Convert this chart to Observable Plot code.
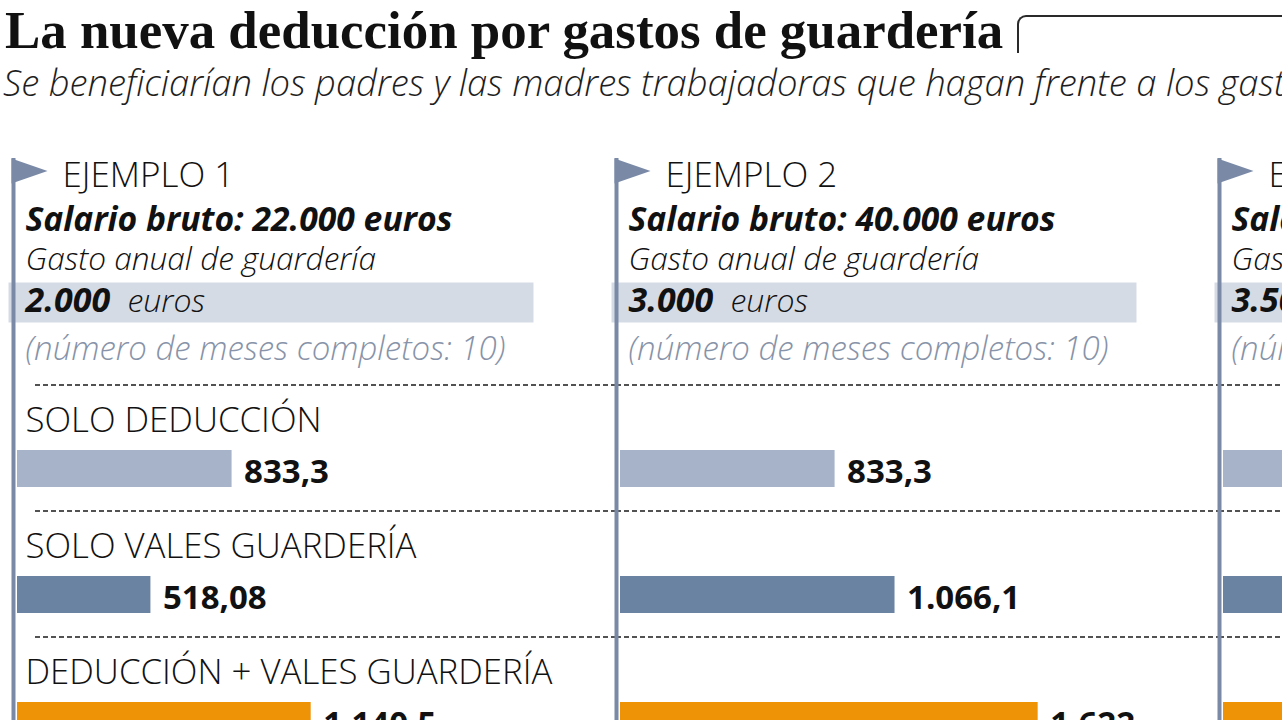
<!DOCTYPE html>
<html lang="es">
<head>
<meta charset="utf-8">
<script src="https://cdn.jsdelivr.net/npm/d3@7"></script>
<script src="https://cdn.jsdelivr.net/npm/@observablehq/plot@0.6"></script>
<style>
  html, body { margin: 0; padding: 0; width: 1282px; height: 720px; overflow: hidden; background: #fff; }
  #page { position: relative; width: 1282px; height: 720px; overflow: hidden; }
  #titulo { position: absolute; left: 5px; top: 4px; margin: 0; font-family: "Liberation Serif", serif; font-weight: 700; font-size: 52.9px; line-height: 53px; color: #111; white-space: nowrap; }
  #caja { position: absolute; left: 1017px; top: 15px; width: 400px; height: 36px; border-top: 2px solid #2a2a2a; border-left: 2px solid #2a2a2a; border-top-left-radius: 9px; }
  #subtitulo { position: absolute; left: 3px; top: 63.5px; margin: 0; font-family: "Open Sans", sans-serif; font-style: italic; font-weight: 300; font-size: 36.4px; line-height: 36.4px; color: #1e1e1e; white-space: nowrap; }
  #grafico { position: absolute; left: 0; top: 120px; }
  #grafico svg { max-width: none !important; overflow: hidden; }
</style>
</head>
<body>
<div id="page">
  <h1 id="titulo">La nueva deducción por gastos de guardería</h1>
  <div id="caja"></div>
  <p id="subtitulo">Se beneficiarían los padres y las madres trabajadoras que hagan frente a los gastos de guardería de sus hijos</p>
  <div id="grafico"></div>
</div>
<script>
// ---- Datos ----
const ejemplos = ["EJEMPLO 1", "EJEMPLO 2", "EJEMPLO 3"];
const salarios = [22000, 40000, 60000];
const gastos = [2000, 3000, 3500];
const meses = [10, 10, 10];
const medidas = ["SOLO DEDUCCIÓN", "SOLO VALES GUARDERÍA", "DEDUCCIÓN + VALES GUARDERÍA"];
const soloDeduccion = [833.3, 833.3, 833.3];
const soloVales = [518.08, 1066.1, 1575];
const deduccionVales = [1140.5, 1622, 2150];

// ---- Estilo ----
const colores = ["#a7b3c9", "#6a83a3", "#ee9206"];
const azulMastil = "#7a8aa6";
const F = "'Open Sans', sans-serif";

const es = d3.formatLocale({decimal: ",", thousands: ".", grouping: [3], currency: ["", " €"]});
const fmtVal = es.format(",.2~f");
const fmtInt = es.format(",d");

const info = ejemplos.map((e, i) => ({ejemplo: e, salario: salarios[i], gasto: gastos[i], meses: meses[i]}));
const valores = [soloDeduccion, soloVales, deduccionVales];
const rows = ejemplos.flatMap((e, i) => medidas.map((m, j) => ({ejemplo: e, medida: m, valor: valores[j][i]})));
const primero = rows.filter(d => d.ejemplo === ejemplos[0]);
const resto = rows.filter(d => d.ejemplo !== ejemplos[0]);

const banderin = {draw(ctx) { ctx.moveTo(0, 0); ctx.lineTo(36, 12.5); ctx.lineTo(0, 25); ctx.closePath(); }};

const head = {fx: "ejemplo", frameAnchor: "top-left", textAnchor: "start", lineAnchor: "bottom", fontFamily: F, fontSize: 32, dx: 12};

const chart = Plot.plot({
  width: 1840,
  height: 600,
  marginTop: 0, marginRight: 0, marginBottom: 0, marginLeft: 0,
  style: {fontFamily: F, background: "transparent"},
  fx: {domain: ejemplos, range: [13, 13 + 3 * 603], padding: 0, axis: null},
  x: {domain: [0, 2000], range: [4, 519], axis: null},
  y: {domain: medidas, range: [284, 664], paddingInner: 0.708, paddingOuter: 0.354, axis: null},
  color: {domain: medidas, range: colores},
  marks: [
    Plot.frame({fill: "#d5dbe5", stroke: "none", insetLeft: -5, insetRight: 83, insetTop: 162, insetBottom: 398}),
    Plot.ruleY(primero, {fx: "ejemplo", y: "medida", dy: -84, insetLeft: 22, stroke: "#1a1a1a", strokeWidth: 1.5, strokeDasharray: "5,3"}),
    Plot.ruleY(resto, {fx: "ejemplo", y: "medida", dy: -84, stroke: "#1a1a1a", strokeWidth: 1.5, strokeDasharray: "5,3"}),
    Plot.ruleX(info, {fx: "ejemplo", x: () => 0, dx: -4, insetTop: 38, stroke: azulMastil, strokeWidth: 4}),
    Plot.dot(info, {fx: "ejemplo", frameAnchor: "top-left", dx: -2, dy: 38, symbol: banderin, fill: azulMastil, stroke: "none"}),
    Plot.text(info, {...head, text: "ejemplo", dx: 49, dy: 66, fontSize: 35, fontWeight: 300, fill: "#111"}),
    Plot.text(info, {...head, text: d => `Salario bruto: ${fmtInt(d.salario)} euros`, dy: 110, fontSize: 33.7, fontStyle: "italic", fontWeight: 700, fill: "#111"}),
    Plot.text(info, {...head, text: () => "Gasto anual de guardería", dy: 149, fontSize: 31.6, fontStyle: "italic", fontWeight: 300, fill: "#111"}),
    Plot.text(info, {...head, text: d => fmtInt(d.gasto), dy: 191, fontSize: 34, fontStyle: "italic", fontWeight: 700, fill: "#111"}),
    Plot.text(info, {...head, text: () => "euros", dx: 114, dy: 191, fontStyle: "italic", fontWeight: 300, fill: "#111"}),
    Plot.text(info, {...head, text: d => `(número de meses completos: ${d.meses})`, dy: 239, fontSize: 33, fontStyle: "italic", fontWeight: 300, fill: "#8793a8"}),
    Plot.text(primero, {fx: "ejemplo", y: "medida", text: "medida", frameAnchor: "left", dx: 12, dy: -37, textAnchor: "start", lineAnchor: "bottom", fontFamily: F, fontSize: 34.8, fontWeight: 300, fill: "#111"}),
    Plot.barX(rows, {fx: "ejemplo", y: "medida", x: "valor", fill: "medida"}),
    Plot.text(rows, {fx: "ejemplo", y: "medida", x: "valor", text: d => fmtVal(d.valor), dx: 12, dy: 14, textAnchor: "start", lineAnchor: "bottom", fontFamily: F, fontSize: 33, fontWeight: 700, fill: "#111"})
  ]
});
document.getElementById("grafico").appendChild(chart);
</script>
</body>
</html>
